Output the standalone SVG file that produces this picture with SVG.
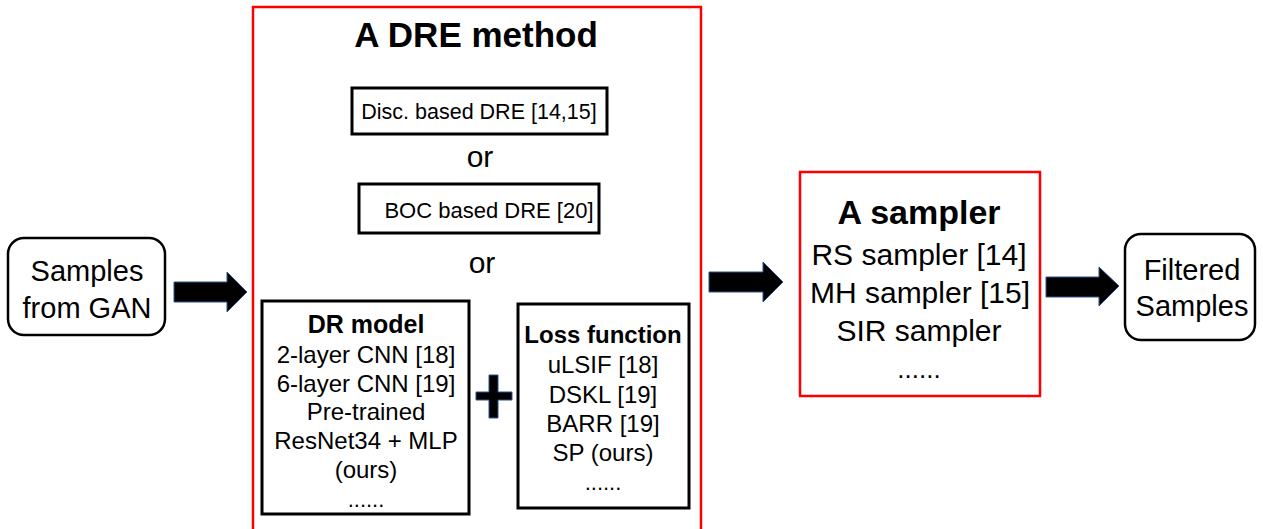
<svg xmlns="http://www.w3.org/2000/svg" width="1263" height="529" viewBox="0 0 1263 529">
<style>
  .t { font-family: "Liberation Sans", Arial, sans-serif; fill: #000; text-anchor: middle; }
  .b { font-weight: bold; }
  .box { fill: #fff; stroke: #000; stroke-width: 3; }
  .red { fill: none; stroke: #ff0000; stroke-width: 2.5; }
  .rnd { fill: #fff; stroke: #000; stroke-width: 2.5; }
  .arr { fill: #000; stroke: #2f528f; stroke-width: 1; }
</style>
<rect width="1263" height="529" fill="#fff"/>

<g id="samples-from-gan">
  <rect class="rnd" x="8" y="238" width="157" height="97" rx="16"/>
  <text class="t" x="87" y="281" font-size="29">Samples</text>
  <text class="t" x="87" y="318" font-size="29">from GAN</text>
</g>

<g id="dre-method">
  <rect class="red" x="253" y="7" width="448" height="540"/>
  <text class="t b" x="476" y="47" font-size="35">A DRE method</text>
  <g id="disc-dre">
    <rect class="box" x="352" y="88" width="255" height="46" stroke-width="2.5"/>
    <text class="t" x="479" y="119" font-size="21.5">Disc. based DRE [14,15]</text>
  </g>
  <text class="t" x="480" y="167" font-size="30">or</text>
  <g id="boc-dre">
    <rect class="box" x="359" y="184" width="240" height="49" stroke-width="2.5"/>
    <text class="t" x="489" y="218" font-size="22">BOC based DRE [20]</text>
  </g>
  <text class="t" x="482" y="273" font-size="30">or</text>
  <g id="dr-model">
    <rect class="box" x="262" y="301" width="207" height="213"/>
    <text class="t b" x="366" y="333" font-size="25">DR model</text>
    <text class="t" x="366" y="363" font-size="24">2-layer CNN [18]</text>
    <text class="t" x="366" y="392" font-size="24">6-layer CNN [19]</text>
    <text class="t" x="366" y="420" font-size="24">Pre-trained</text>
    <text class="t" x="366" y="449" font-size="24">ResNet34 + MLP</text>
    <text class="t" x="366" y="478" font-size="24">(ours)</text>
    <text class="t" x="366" y="507" font-size="22">......</text>
  </g>
  <g id="plus">
    <path class="arr" d="M489,375 H498 V392 H512 V400 H498 V418 H489 V400 H476 V392 H489 Z"/>
  </g>
  <g id="loss-function">
    <rect class="box" x="518" y="304" width="171" height="204"/>
    <text class="t b" x="603" y="343" font-size="24">Loss function</text>
    <text class="t" x="603" y="373" font-size="24">uLSIF [18]</text>
    <text class="t" x="603" y="403" font-size="24">DSKL [19]</text>
    <text class="t" x="603" y="432" font-size="24">BARR [19]</text>
    <text class="t" x="603" y="461" font-size="24">SP (ours)</text>
    <text class="t" x="603" y="490" font-size="22">......</text>
  </g>
</g>

<g id="sampler">
  <rect class="red" x="800" y="172" width="240" height="224"/>
  <text class="t b" x="919" y="224" font-size="34">A sampler</text>
  <text class="t" x="919" y="265" font-size="30">RS sampler [14]</text>
  <text class="t" x="920" y="303" font-size="30">MH sampler [15]</text>
  <text class="t" x="919" y="341" font-size="30">SIR sampler</text>
  <text class="t" x="919" y="378" font-size="26">......</text>
</g>

<g id="filtered-samples">
  <rect class="rnd" x="1125" y="234" width="130" height="106" rx="16"/>
  <text class="t" x="1192" y="280" font-size="29">Filtered</text>
  <text class="t" x="1192" y="316" font-size="29">Samples</text>
</g>

<g id="connectors">
  <path class="arr" d="M174,282 H227 V272 L247,292 L227,312 V302 H174 Z"/>
  <path class="arr" d="M709,272 H763 V262 L783,282 L763,302 V292 H709 Z"/>
  <path class="arr" d="M1046,277 H1099 V267 L1119,286 L1099,306 V297 H1046 Z"/>
</g>
</svg>
